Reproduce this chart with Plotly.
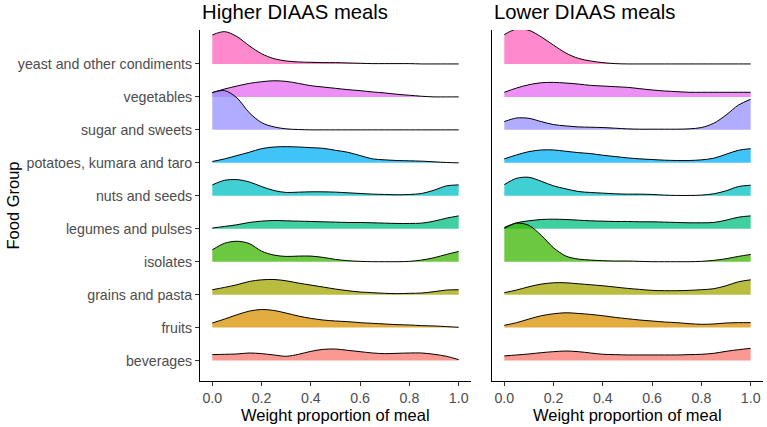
import plotly.graph_objects as go

# ---------------- data ----------------
categories = [
    "beverages",
    "fruits",
    "grains and pasta",
    "isolates",
    "legumes and pulses",
    "nuts and seeds",
    "potatoes, kumara and taro",
    "sugar and sweets",
    "vegetables",
    "yeast and other condiments",
]

x_grid = [0.0, 0.05, 0.1, 0.15, 0.2, 0.25, 0.3, 0.35, 0.4, 0.45, 0.5,
          0.55, 0.6, 0.65, 0.7, 0.75, 0.8, 0.85, 0.9, 0.95, 1.0]

x_ticks = [0.0, 0.2, 0.4, 0.6, 0.8, 1.0]
x_tick_labels = ["0.0", "0.2", "0.4", "0.6", "0.8", "1.0"]

panel_titles = ["Higher DIAAS meals", "Lower DIAAS meals"]

# ridge heights (in category units) read at x_grid — Higher DIAAS meals
hi_beverages = [0.18, 0.19, 0.20, 0.23, 0.21, 0.17, 0.13, 0.19, 0.28, 0.34, 0.35,
                0.31, 0.27, 0.23, 0.21, 0.22, 0.23, 0.23, 0.19, 0.13, 0.03]
hi_fruits = [0.14, 0.26, 0.39, 0.50, 0.55, 0.52, 0.44, 0.35, 0.28, 0.23, 0.20,
             0.18, 0.15, 0.13, 0.11, 0.09, 0.08, 0.06, 0.05, 0.03, 0.01]
hi_grains = [0.15, 0.22, 0.30, 0.40, 0.45, 0.46, 0.42, 0.35, 0.29, 0.23, 0.17,
             0.12, 0.08, 0.06, 0.04, 0.03, 0.04, 0.05, 0.09, 0.14, 0.15]
hi_isolates = [0.36, 0.56, 0.62, 0.55, 0.32, 0.20, 0.16, 0.17, 0.17, 0.13, 0.07,
               0.03, 0.01, 0.0, 0.0, 0.0, 0.01, 0.05, 0.12, 0.22, 0.31]
hi_legumes = [0.02, 0.07, 0.12, 0.19, 0.23, 0.25, 0.24, 0.23, 0.22, 0.21, 0.20,
              0.19, 0.19, 0.18, 0.17, 0.16, 0.16, 0.17, 0.23, 0.32, 0.39]
hi_nuts = [0.33, 0.47, 0.49, 0.42, 0.28, 0.16, 0.10, 0.11, 0.12, 0.12, 0.11,
           0.09, 0.07, 0.05, 0.04, 0.03, 0.04, 0.07, 0.17, 0.30, 0.33]
hi_potatoes = [0.04, 0.12, 0.22, 0.32, 0.43, 0.48, 0.49, 0.48, 0.46, 0.44, 0.38,
               0.32, 0.22, 0.12, 0.09, 0.07, 0.06, 0.05, 0.03, 0.01, 0.0]
hi_sugar = [1.13, 1.19, 0.97, 0.52, 0.22, 0.09, 0.03, 0.01, 0.0, 0.0, 0.0,
            0.0, 0.0, 0.0, 0.0, 0.0, 0.0, 0.0, 0.0, 0.0, 0.0]
hi_vegetables = [0.13, 0.24, 0.33, 0.41, 0.46, 0.49, 0.47, 0.41, 0.34, 0.30, 0.26,
                 0.22, 0.19, 0.15, 0.12, 0.08, 0.05, 0.02, 0.0, 0.0, 0.0]
hi_yeast = [0.88, 0.98, 0.83, 0.55, 0.31, 0.16, 0.09, 0.06, 0.05, 0.04, 0.04,
            0.03, 0.02, 0.01, 0.01, 0.01, 0.01, 0.0, 0.0, 0.0, 0.0]

# Lower DIAAS meals
lo_beverages = [0.14, 0.17, 0.20, 0.24, 0.27, 0.29, 0.27, 0.23, 0.19, 0.18, 0.17,
                0.17, 0.17, 0.17, 0.17, 0.18, 0.19, 0.22, 0.28, 0.33, 0.37]
lo_fruits = [0.07, 0.15, 0.26, 0.36, 0.42, 0.45, 0.43, 0.40, 0.36, 0.31, 0.27,
             0.23, 0.20, 0.17, 0.15, 0.12, 0.10, 0.11, 0.14, 0.15, 0.15]
lo_grains = [0.06, 0.14, 0.24, 0.32, 0.36, 0.36, 0.33, 0.30, 0.27, 0.23, 0.19,
             0.16, 0.13, 0.12, 0.12, 0.13, 0.15, 0.18, 0.27, 0.39, 0.45]
lo_isolates = [1.01, 1.17, 1.10, 0.80, 0.42, 0.17, 0.08, 0.05, 0.03, 0.02, 0.02,
               0.01, 0.0, 0.0, 0.0, 0.0, 0.01, 0.04, 0.09, 0.16, 0.22]
lo_legumes = [0.04, 0.18, 0.24, 0.28, 0.29, 0.28, 0.26, 0.24, 0.23, 0.22, 0.22,
              0.21, 0.21, 0.20, 0.19, 0.18, 0.18, 0.19, 0.26, 0.35, 0.39]
lo_nuts = [0.34, 0.53, 0.56, 0.44, 0.30, 0.21, 0.13, 0.10, 0.08, 0.06, 0.05,
           0.05, 0.04, 0.02, 0.01, 0.01, 0.02, 0.06, 0.15, 0.28, 0.32]
lo_potatoes = [0.12, 0.24, 0.34, 0.39, 0.39, 0.35, 0.31, 0.28, 0.23, 0.19, 0.15,
               0.12, 0.10, 0.08, 0.07, 0.07, 0.09, 0.14, 0.26, 0.38, 0.43]
lo_sugar = [0.25, 0.36, 0.35, 0.25, 0.16, 0.12, 0.09, 0.08, 0.07, 0.05, 0.03,
            0.02, 0.02, 0.02, 0.02, 0.03, 0.07, 0.20, 0.45, 0.75, 0.93]
lo_vegetables = [0.14, 0.27, 0.37, 0.43, 0.44, 0.42, 0.39, 0.35, 0.33, 0.31, 0.29,
                 0.25, 0.21, 0.18, 0.16, 0.14, 0.14, 0.14, 0.14, 0.14, 0.14]
lo_yeast = [0.89, 1.06, 1.02, 0.82, 0.57, 0.33, 0.17, 0.09, 0.04, 0.01, 0.0,
            0.0, 0.0, 0.0, 0.0, 0.0, 0.0, 0.0, 0.0, 0.0, 0.0]

higher = [hi_beverages, hi_fruits, hi_grains, hi_isolates, hi_legumes,
          hi_nuts, hi_potatoes, hi_sugar, hi_vegetables, hi_yeast]
lower = [lo_beverages, lo_fruits, lo_grains, lo_isolates, lo_legumes,
         lo_nuts, lo_potatoes, lo_sugar, lo_vegetables, lo_yeast]

# ---------------- styles ----------------
hue = [(248, 118, 109), (216, 144, 0), (163, 165, 0), (57, 182, 0), (0, 191, 125),
       (0, 191, 196), (0, 176, 246), (149, 144, 255), (231, 107, 243), (255, 98, 188)]
ALPHA = 0.75
FONT = "Liberation Sans, Arial, sans-serif"
TICK_SIZE = 14.2

W, H = 767, 427
ML, MR, MT, MB = 200, 4, 30, 46
plot_w = W - ML - MR
plot_h = H - MT - MB
left_dom = [0, 271 / plot_w]
right_dom = [292 / plot_w, 1]

fig = go.Figure()
for xa, ya, series in (("x", "y", higher), ("x2", "y2", lower)):
    for i in reversed(range(len(categories))):
        r, g, b = hue[i]
        fig.add_trace(go.Scatter(
            x=x_grid, y=[i] * len(x_grid), xaxis=xa, yaxis=ya,
            mode="lines", line=dict(width=0, color="rgba(0,0,0,0)"),
            hoverinfo="skip", showlegend=False))
        fig.add_trace(go.Scatter(
            x=x_grid, y=[i + h for h in series[i]], xaxis=xa, yaxis=ya,
            mode="lines", fill="tonexty",
            fillcolor=f"rgba({r},{g},{b},{ALPHA})",
            line=dict(color="black", width=1, shape="spline", smoothing=0.9),
            name=categories[i], showlegend=False))

xaxis_common = dict(
    range=[-0.05, 1.05], tickvals=x_ticks, ticktext=x_tick_labels,
    showline=True, linecolor="black", linewidth=1,
    ticks="outside", ticklen=4, tickcolor="#333333", tickwidth=1,
    tickfont=dict(family=FONT, size=TICK_SIZE, color="#4D4D4D"),
    showgrid=False, zeroline=False, fixedrange=True,
)
yrange = [-0.62, 10.03]

fig.update_layout(
    width=W, height=H,
    margin=dict(l=ML, r=MR, t=MT, b=MB, pad=0),
    paper_bgcolor="white", plot_bgcolor="white",
    showlegend=False,
    xaxis=dict(domain=left_dom, anchor="y", **xaxis_common),
    xaxis2=dict(domain=right_dom, anchor="y2", **xaxis_common),
    yaxis=dict(
        range=yrange, tickvals=list(range(len(categories))), ticktext=categories,
        showline=True, linecolor="black", linewidth=1,
        ticks="outside", ticklen=4, tickcolor="#333333", tickwidth=1,
        tickfont=dict(family=FONT, size=TICK_SIZE, color="#4D4D4D"),
        showgrid=False, zeroline=False, anchor="x", fixedrange=True,
    ),
    yaxis2=dict(
        range=yrange, matches="y", showticklabels=False, ticks="",
        showline=True, linecolor="black", linewidth=1,
        showgrid=False, zeroline=False, anchor="x2", fixedrange=True,
    ),
)

annotations = []
for dom, title in zip((left_dom, right_dom), panel_titles):
    annotations.append(dict(
        text=title, xref="paper", yref="paper", x=dom[0], y=1 + 18.5 / plot_h,
        xanchor="left", yanchor="middle", showarrow=False,
        font=dict(family=FONT, size=20.3, color="black")))
    annotations.append(dict(
        text="Weight proportion of meal", xref="paper", yref="paper",
        x=(dom[0] + dom[1]) / 2,
        y=-34 / plot_h, xanchor="center", yanchor="middle", showarrow=False,
        font=dict(family=FONT, size=16.5, color="black")))
annotations.append(dict(
    text="Food Group", xref="paper", yref="paper", x=-188 / plot_w, y=0.5,
    xanchor="center", yanchor="middle", textangle=-90, showarrow=False,
    font=dict(family=FONT, size=16.5, color="black")))
fig.update_layout(annotations=annotations)

fig.write_html("out.html")
